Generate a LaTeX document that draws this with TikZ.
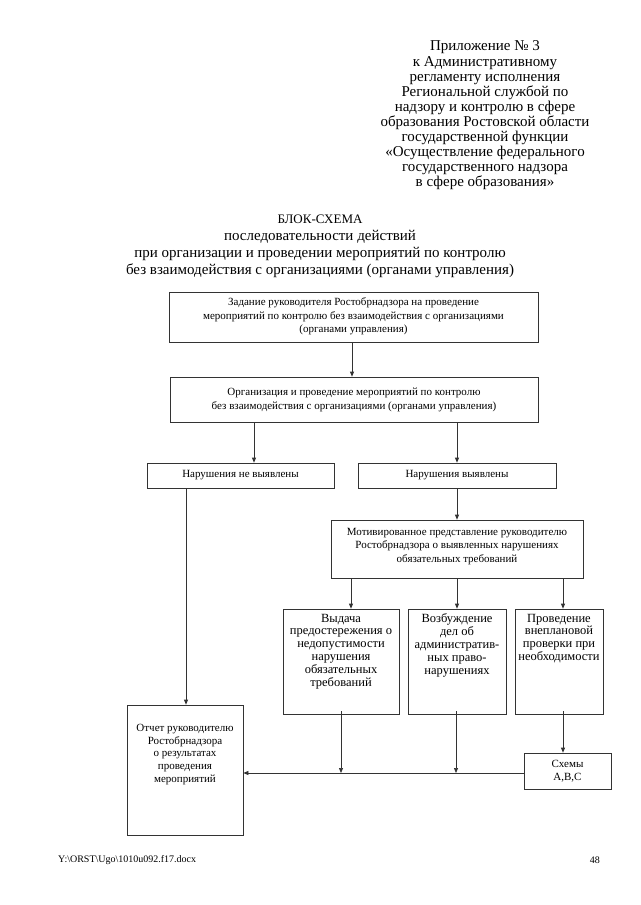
\documentclass[tikz,border=0pt]{standalone}
\usepackage{fontspec}
\setmainfont{Liberation Serif}
\usetikzlibrary{arrows.meta}
\newcommand{\fs}[2]{\fontsize{#1}{#2}\selectfont\lineskiplimit=-100pt\relax}
\tikzset{
  box/.style={draw=black!80, line width=0.7pt, inner sep=0pt, align=center,
    font=\fs{11}{13}},
  arr/.style={draw=black!80, line width=0.7pt, -{Triangle[length=5pt,width=4pt]}},
  hdr/.style={align=center, inner sep=0pt}
}
\begin{document}
\begin{tikzpicture}[x=1pt,y=-1pt]
\useasboundingbox[fill=white] (0,0) rectangle (640,905);
% header
\node[hdr, font=\fs{15}{15.1}] (hdr) at (485,115.5) {Приложение № 3\\
к Административному\\
регламенту исполнения\\
Региональной службой по\\
надзору и контролю в сфере\\
образования Ростовской области\\
государственной функции\\
«Осуществление федерального\\
государственного надзора\\
в сфере образования»};
% title
\node[hdr, font=\fs{15}{17}] (ttl) at (320,246) {{\fs{13}{17}БЛОК-СХЕМА}\\
последовательности действий\\
при организации и проведении мероприятий по контролю\\
без взаимодействия с организациями (органами управления)};
% boxes
\node[box, minimum width=369, minimum height=50] (b1) at (353.5,317) {\parbox[c][44pt][t]{360pt}{\centering\fs{11}{13.5}\vspace{3pt}Задание руководителя Ростобрнадзора на проведение\\
мероприятий по контролю без взаимодействия с организациями\\
(органами управления)}};
\node[box, minimum width=368, minimum height=45] (b2) at (354,399.5) {\parbox[c][39pt][t]{360pt}{\centering\fs{11}{14}\vspace{8pt}Организация и проведение мероприятий по контролю\\
без взаимодействия с организациями (органами управления)}};
\node[box, minimum width=187, minimum height=25] (b3) at (240.5,475.5) {Нарушения не выявлены};
\node[box, minimum width=198, minimum height=25] (b4) at (457,475.5) {Нарушения выявлены};
\node[box, minimum width=252, minimum height=58] (b5) at (457,549) {\parbox[c][52pt][t]{248pt}{\centering\fs{11}{13.6}\vspace{5pt}Мотивированное представление руководителю\\
Ростобрнадзора о выявленных нарушениях\\
обязательных требований}};
\node[box, minimum width=116, minimum height=105] (vyd) at (341,661.5) {\parbox[c][99pt][t]{114pt}{\centering\fs{12.5}{12.8}\vspace{2pt}Выдача\\
предостережения о\\
недопустимости\\
нарушения\\
обязательных\\
требований}};
\node[box, minimum width=98, minimum height=105] (voz) at (457,661.5) {\parbox[c][99pt][t]{96pt}{\centering\fs{12.5}{12.8}\vspace{2pt}Возбуждение\\
дел об\\
административ-\\
ных право-\\
нарушениях}};
\node[box, minimum width=88, minimum height=105] (pro) at (559,661.5) {\parbox[c][99pt][t]{86pt}{\centering\fs{12.5}{12.8}\vspace{2pt}Проведение\\
внеплановой\\
проверки при\\
необходимости}};
\node[box, minimum width=116, minimum height=130] (otc) at (185,770) {\parbox[c][124pt][t]{112pt}{\centering\fs{11}{12.8}\vspace{16pt}Отчет руководителю\\
Ростобрнадзора\\
о результатах\\
проведения\\
мероприятий}};
\node[box, minimum width=87, minimum height=36] (sch) at (567.5,771) {\fs{11}{14}Схемы\\A,B,C};
% footer
\node[anchor=west, inner sep=0pt, font=\fs{10}{12}] (ftl) at (58,860) {Y:\textbackslash ORST\textbackslash Ugo\textbackslash 1010u092.f17.docx};
\node[anchor=east, inner sep=0pt, font=\fs{10}{12}] (ftr) at (600,860) {48};
% coordinates
\coordinate (x1) at (352,0);
\coordinate (x2) at (254,0);
\coordinate (x3) at (457,0);
\coordinate (x4) at (186,0);
\coordinate (x5) at (351,0);
\coordinate (x6) at (563,0);
\coordinate (x7) at (341,0);
\coordinate (x8) at (456,0);
\coordinate (jy) at (0,773);
% connectors
\draw[arr] (b1.south -| x1) -- (b2.north -| x1);
\draw[arr] (b2.south -| x2) -- (b3.north -| x2);
\draw[arr] (b2.south -| x3) -- (b4.north -| x3);
\draw[arr] (b4.south -| x3) -- (b5.north -| x3);
\draw[arr] (b3.south -| x4) -- (otc.north -| x4);
\draw[arr] (b5.south -| x5) -- (vyd.north -| x5);
\draw[arr] (b5.south -| x3) -- (voz.north -| x3);
\draw[arr] (b5.south -| x6) -- (pro.north -| x6);
\draw[arr] ([yshift=3pt]vyd.south -| x7) -- (x7 |- jy);
\draw[arr] ([yshift=3pt]voz.south -| x8) -- (x8 |- jy);
\draw[arr] ([yshift=3pt]pro.south -| x6) -- (sch.north -| x6);
\draw[arr] (sch.west |- jy) -- (otc.east |- jy);
\end{tikzpicture}
\end{document}
